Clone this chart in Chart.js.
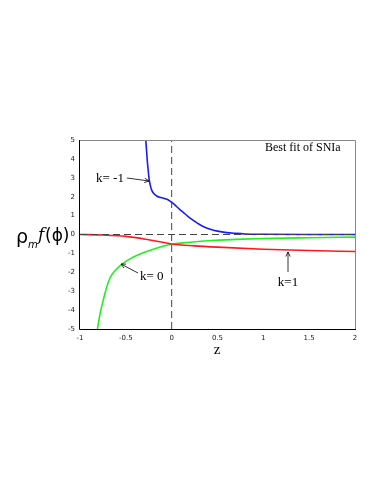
<!DOCTYPE html>
<html><head><meta charset="utf-8">
<script src="https://cdn.jsdelivr.net/npm/chart.js@4/dist/chart.umd.min.js"></script>
<style>html,body{margin:0;padding:0;background:#fff;}canvas{display:block;}</style>
</head><body>
<canvas id="c" width="382" height="494"></canvas>
<script>
const xTicks = [-1, -0.5, 0, 0.5, 1, 1.5, 2];
const yTicks = [5, 4, 3, 2, 1, 0, -1, -2, -3, -4, -5];

const zBlue = [-0.282, -0.275, -0.265, -0.256, -0.247, -0.233, -0.218, -0.19, -0.164, -0.13, -0.09, -0.05, -0.018, 0.02, 0.055, 0.09, 0.127, 0.18, 0.245, 0.3, 0.355, 0.43, 0.5, 0.6, 0.7, 0.8, 1.0, 1.5, 2.0];
const kMinus1 = [5, 4.5, 3.85, 3.4, 2.97, 2.6, 2.35, 2.14, 2.04, 1.97, 1.92, 1.86, 1.77, 1.63, 1.47, 1.32, 1.17, 0.95, 0.72, 0.54, 0.4, 0.27, 0.18, 0.1, 0.06, 0.03, 0.01, 0.0, 0.0];

const zGreen = [-0.81, -0.78, -0.746, -0.71, -0.673, -0.62, -0.545, -0.455, -0.345, -0.2, 0, 0.2, 0.43, 0.7, 1.0, 1.5, 2.0];
const kZero = [-5, -4.17, -3.47, -2.8, -2.3, -1.93, -1.58, -1.29, -1.03, -0.78, -0.52, -0.41, -0.32, -0.26, -0.21, -0.17, -0.14];

const zRed = [-1, -0.75, -0.5, -0.25, 0, 0.25, 0.5, 1.0, 1.5, 2.0];
const kOne = [0, -0.03, -0.1, -0.28, -0.5, -0.6, -0.67, -0.78, -0.85, -0.9];

const toPts = (xs, ys) => xs.map((x, i) => ({x: x, y: ys[i]}));

const L = 80, R = 355, T = 140, B = 329, W = 382, H = 494;

const decor = {
  id: 'decor',
  afterDraw(chart) {
    const ctx = chart.ctx;
    const a = chart.chartArea;
    ctx.save();
    ctx.strokeStyle = '#888';
    ctx.lineWidth = 1;
    ctx.beginPath();
    ctx.moveTo(a.left, a.top + 0.5); ctx.lineTo(a.right + 0.5, a.top + 0.5); ctx.lineTo(a.right + 0.5, a.bottom);
    ctx.stroke();
    ctx.strokeStyle = '#000';
    ctx.beginPath();
    ctx.moveTo(a.left - 0.5, a.top); ctx.lineTo(a.left - 0.5, a.bottom + 0.5); ctx.lineTo(a.right + 1, a.bottom + 0.5);
    ctx.stroke();

    ctx.fillStyle = '#000';
    ctx.strokeStyle = '#000';
    ctx.font = '12px "Liberation Serif", "Times New Roman", serif';
    ctx.textBaseline = 'middle';
    ctx.textAlign = 'left';
    ctx.fillText('Best fit of SNIa', 265, 148);

    function arrow(x1, y1, x2, y2) {
      ctx.lineWidth = 0.8;
      ctx.beginPath(); ctx.moveTo(x1, y1); ctx.lineTo(x2, y2); ctx.stroke();
      const ang = Math.atan2(y2 - y1, x2 - x1), h = 5;
      ctx.beginPath();
      ctx.moveTo(x2 - h * Math.cos(ang - 0.45), y2 - h * Math.sin(ang - 0.45));
      ctx.lineTo(x2, y2);
      ctx.lineTo(x2 - h * Math.cos(ang + 0.45), y2 - h * Math.sin(ang + 0.45));
      ctx.stroke();
    }
    ctx.font = '13px "Liberation Serif", "Times New Roman", serif';
    ctx.fillText('k= -1', 96, 179);
    arrow(127, 178, 149, 181);
    ctx.fillText('k= 0', 140, 277);
    arrow(138, 273, 121, 264);
    ctx.textAlign = 'center';
    ctx.fillText('k=1', 288, 283);
    arrow(288, 272, 288, 252);

    ctx.font = '15px "Liberation Serif", "Times New Roman", serif';
    ctx.fillText('z', 217, 350);

    ctx.textAlign = 'left';
    ctx.font = '19px "DejaVu Sans", sans-serif';
    ctx.fillText('\u03C1', 16, 238);
    ctx.font = 'italic 10px "DejaVu Sans", sans-serif';
    ctx.fillText('m', 28, 245);
    ctx.font = 'italic 17px "DejaVu Serif", serif';
    ctx.fillText('f', 38, 236);
    ctx.font = '17px "DejaVu Sans", sans-serif';
    ctx.fillText('(\u03D5)', 45, 237);
    ctx.restore();
  }
};

new Chart(document.getElementById('c'), {
  type: 'scatter',
  data: {
    datasets: [
      {data: [{x: -1, y: 0}, {x: 2, y: 0}], showLine: true, borderColor: '#444', borderWidth: 1, borderDash: [7, 4], pointRadius: 0},
      {data: [{x: 0, y: -5}, {x: 0, y: 5}], showLine: true, borderColor: '#444', borderWidth: 1, borderDash: [7, 4], pointRadius: 0},
      {data: toPts(zRed, kOne), showLine: true, borderColor: '#ff1a1a', borderWidth: 1.6, pointRadius: 0, cubicInterpolationMode: 'monotone'},
      {data: toPts(zGreen, kZero), showLine: true, borderColor: '#22ee22', borderWidth: 1.6, pointRadius: 0, cubicInterpolationMode: 'monotone'},
      {data: toPts(zBlue, kMinus1), showLine: true, borderColor: '#1a1aff', borderWidth: 1.6, pointRadius: 0, cubicInterpolationMode: 'monotone'}
    ]
  },
  options: {
    responsive: false,
    animation: false,
    events: [],
    layout: {padding: {left: 0, right: W - R, top: T, bottom: 0}},
    plugins: {legend: {display: false}, tooltip: {enabled: false}},
    scales: {
      x: {
        type: 'linear', min: -1, max: 2,
        afterBuildTicks: s => { s.ticks = xTicks.map(v => ({value: v})); },
        afterFit: s => { s.height = H - B; },
        grid: {display: false, drawOnChartArea: false, drawTicks: true, tickLength: 3, color: '#000'},
        border: {display: false},
        ticks: {font: {size: 7, family: '"DejaVu Sans", sans-serif'}, color: '#222', padding: 2, maxRotation: 0,
          callback: v => String(v)}
      },
      y: {
        type: 'linear', min: -5, max: 5,
        afterBuildTicks: s => { s.ticks = yTicks.map(v => ({value: v})); },
        afterFit: s => { s.width = L; },
        grid: {display: false, drawOnChartArea: false, drawTicks: true, tickLength: 3, color: '#000'},
        border: {display: false},
        ticks: {font: {size: 7, family: '"DejaVu Sans", sans-serif'}, color: '#222', padding: 2,
          callback: v => String(v)}
      }
    }
  },
  plugins: [decor]
});
</script>
</body></html>
